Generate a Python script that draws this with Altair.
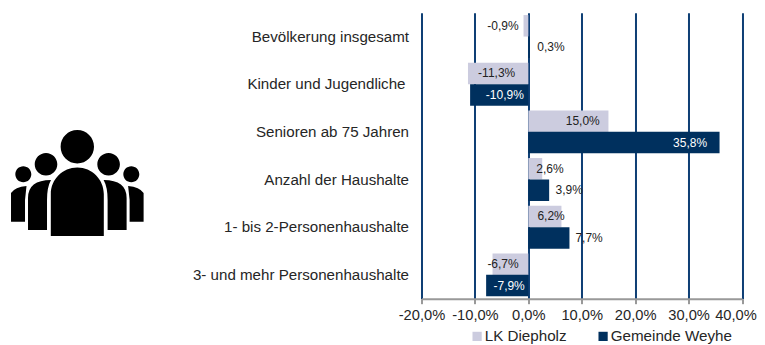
import altair as alt
import pandas as pd

categories = ["Bevölkerung insgesamt", "Kinder und Jugendliche ", "Senioren ab 75 Jahren",
              "Anzahl der Haushalte", "1- bis 2-Personenhaushalte", "3- und mehr Personenhaushalte"]
series_names = ["LK Diepholz", "Gemeinde Weyhe"]
lk_values = [-0.9, -11.3, 15.0, 2.6, 6.2, -6.7]
weyhe_values = [0.3, -10.9, 35.8, 3.9, 7.7, -7.9]
tick_values = [-20, -10, 0, 10, 20, 30, 40]

rows = []
for c, a, b in zip(categories, lk_values, weyhe_values):
    rows.append({"cat": c, "series": series_names[0], "value": a})
    rows.append({"cat": c, "series": series_names[1], "value": b})
df = pd.DataFrame(rows)
df["label"] = df["value"].map(lambda v: f"{v:.1f}%".replace(".", ","))

# label placement (px, relative to bar end), as in the original's hand-placed labels
label_dx = [-20.5, 21, 28.7, 34.7, -25.7, -29.5, 7.8, 20, -10.4, 19.6, 10.5, 23]
label_colors = ["#222222", "#222222", "#222222", "#ffffff", "#222222", "#ffffff",
                "#222222", "#222222", "#222222", "#222222", "#222222", "#ffffff"]

FONT = "Liberation Sans"
GRID = "#0f3f75"
x_scale = alt.Scale(domain=[-20, 40], nice=False, zero=False)
y_enc = alt.Y("cat:N", sort=categories, title=None,
              scale=alt.Scale(paddingInner=0.1, paddingOuter=0.05),
              axis=alt.Axis(domain=False, ticks=False, grid=False, labelFont=FONT, labelFontSize=15.15,
                            labelColor="#262626", labelLimit=300,
                            labelPadding={"condition": {"test": "indexof(datum.value, 'Kinder') === 0", "value": 16.5},
                                          "value": 13}))
y_off = alt.YOffset("series:N", sort=series_names, scale=alt.Scale(paddingInner=0, paddingOuter=0))

bars = alt.Chart(df).mark_bar(size=21.5).encode(
    x=alt.X("value:Q", scale=x_scale, title=None,
            axis=alt.Axis(values=tick_values,
                          labelExpr="replace(replace(format(datum.value, '.1f'), '.', ','), '\u2212', '-') + '%'",
                          grid=True, gridColor=GRID, gridWidth=2, gridOpacity=1,
                          domain=True, domainColor="#999999", domainWidth=2,
                          ticks=True, tickColor="#999999", tickWidth=2, tickSize=5,
                          labelFont=FONT, labelFontSize=14.7, labelColor="#262626",
                          labelOffset={"condition": {"test": "datum.value === 40", "value": -6.5}, "value": 0},
                          labelPadding=4, labelOverlap=False, labelFlush=False, labelBound=False)),
    x2=alt.datum(0),
    y=y_enc, yOffset=y_off,
    color=alt.Color("series:N", sort=series_names,
                    scale=alt.Scale(domain=series_names, range=["#ccccdf", "#00305e"]),
                    legend=alt.Legend(title=None, orient="none", legendX=48, legendY=316, direction="horizontal",
                                      symbolType="square", symbolSize=85, symbolStrokeWidth=0, symbolOpacity=1,
                                      labelFont=FONT, labelFontSize=15.2, labelColor="#262626",
                                      labelOffset=0, columnPadding=28, padding=0)),
)

text_layers = []
for i, row in df.iterrows():
    text_layers.append(
        alt.Chart(df[df.index == i]).mark_text(font=FONT, fontSize=12, dx=label_dx[i], color=label_colors[i]).encode(
            x=alt.X("value:Q", scale=x_scale), y=alt.Y("cat:N", sort=categories),
            yOffset=y_off, text="label:N")
    )


# people icon: one filled symbol, outline in icon pixels around its centre
def P(x, y):
    return f"{(x - 77.3) / 100:.4f},{(y - 180) / 100:.4f}"


def head(cx, cy, r):
    u = r / 100
    return f"M{P(cx - r, cy)}a{u:.4f},{u:.4f} 0 1,1 {2*u:.4f},0a{u:.4f},{u:.4f} 0 1,1 {-2*u:.4f},0Z"


M = 154.6  # mirror axis x sum
icon = head(77.3, 146.7, 16.7) + head(46, 164.3, 11.3) + head(M - 46, 164.3, 11.3) + head(23.3, 174.3, 8) + head(M - 23.3, 174.3, 8)
icon += f"M{P(50.8, 236)}L{P(50.8, 194)}A0.265,0.265 0 0,1 {P(103.8, 194)}L{P(103.8, 236)}Z"
icon += f"M{P(28, 230)}L{P(28, 198)}Q{P(28, 180)} {P(51, 180)}Q{P(47, 187)} {P(47, 200)}L{P(47, 230)}Z"
icon += f"M{P(M - 28, 230)}L{P(M - 28, 198)}Q{P(M - 28, 180)} {P(M - 51, 180)}Q{P(M - 47, 187)} {P(M - 47, 200)}L{P(M - 47, 230)}Z"
icon += f"M{P(11, 221.7)}L{P(11, 193)}Q{P(15, 187)} {P(26.5, 186)}L{P(25, 200)}L{P(25, 221.7)}Z"
icon += f"M{P(M - 11, 221.7)}L{P(M - 11, 193)}Q{P(M - 15, 187)} {P(M - 26.5, 186)}L{P(M - 25, 200)}L{P(M - 25, 221.7)}Z"

icon_layer = alt.Chart(pd.DataFrame({"name": ["people"]})).mark_point(
    shape=icon, filled=True, size=40000, color="#000000", opacity=1, strokeWidth=0
).encode(x=alt.value(-344.2), y=alt.value(167.3))

chart = alt.layer(bars, *text_layers, icon_layer).properties(
    width=320.5, height=286,
    autosize=alt.AutoSizeParams(type="none"),
    padding={"left": 413.5, "top": 4.7, "right": 15, "bottom": 46},
).configure_view(stroke=None)

chart.save("out.html", embed_options={"renderer": "svg", "actions": False})
